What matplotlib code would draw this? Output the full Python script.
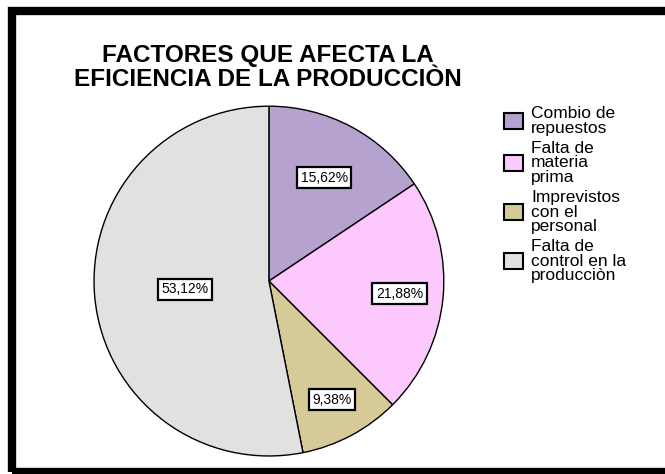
import matplotlib
matplotlib.use("Agg")
import matplotlib.pyplot as plt
from matplotlib.patches import Rectangle, Patch
import numpy as np

plt.rcParams['font.family'] = ['Liberation Sans', 'DejaVu Sans']

# data
categories = ["Combio de\nrepuestos", "Falta de\nmateria\nprima",
              "Imprevistos\ncon el\npersonal", "Falta de\ncontrol en la\nproducciòn"]
values = [15.62, 21.88, 9.38, 53.12]
pct_labels = ["15,62%", "21,88%", "9,38%", "53,12%"]
colors = ["#B5A2CE", "#FDC8FD", "#D6CB98", "#E1E1E1"]

fig = plt.figure(figsize=(6.65, 4.74), dpi=100)
fig.patch.set_facecolor("white")

ax = fig.add_axes([0.1414, 0.038, 0.526, 0.738])
wedges, _ = ax.pie(values, colors=colors, startangle=90, counterclock=False,
                   radius=1.0, wedgeprops=dict(edgecolor="black", linewidth=1.0))
ax.set_xlim(-1, 1)
ax.set_ylim(-1, 1)
ax.set_aspect("equal")
ax.axis("off")

# percentage boxes, placed along each slice's middle angle
label_r = [0.67, 0.75, 0.77, 0.48]
for w, txt, r in zip(wedges, pct_labels, label_r):
    ang = np.deg2rad((w.theta1 + w.theta2) / 2)
    ax.text(r * np.cos(ang), r * np.sin(ang), txt, ha="center", va="center",
            fontsize=10, bbox=dict(boxstyle="square,pad=0.25", fc="white", ec="black", lw=1.6))

fig.text(0.403, 0.858, "FACTORES QUE AFECTA LA\nEFICIENCIA DE LA PRODUCCIÒN",
         ha="center", va="center", fontsize=17.5, fontweight="bold", linespacing=1.05)

handles = [Patch(facecolor=c, edgecolor="black", linewidth=1.5) for c in colors]
fig.legend(handles, categories, loc="upper left", bbox_to_anchor=(0.748, 0.79),
           frameon=False, fontsize=12.5, handlelength=1.05, handleheight=1.0,
           handletextpad=0.5, labelspacing=0.3, borderaxespad=0)
for t in fig.legends[0].get_texts():
    t.set_linespacing(0.95)

# thick black frame around the chart
fig.patches.append(Rectangle((12 / 665, 2 / 474), 1.0, 1 - 13 / 474, transform=fig.transFigure,
                             fill=False, edgecolor="black", linewidth=6, clip_on=False))

fig.savefig("out.png", dpi=100, facecolor="white")
